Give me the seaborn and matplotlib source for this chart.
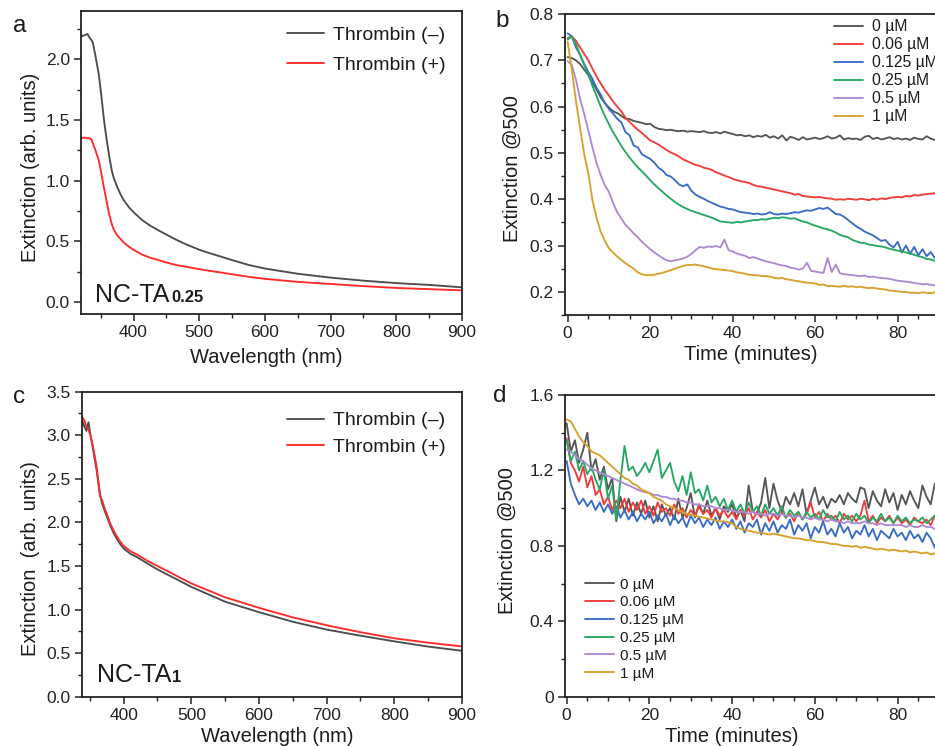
import numpy as np
import pandas as pd
import matplotlib
matplotlib.use("Agg")
import matplotlib.pyplot as plt
from matplotlib.ticker import MultipleLocator, FuncFormatter
import seaborn as sns

# ---------------- data ----------------
wl_a = [320, 325, 330, 333, 336, 338, 342, 347, 351, 355, 359, 363, 367, 370, 375, 380, 385, 393,
        400, 413, 425, 438, 450, 464, 480, 500, 514, 550, 575, 600, 650, 700, 750, 800, 850, 900]
a_minus = [2.19, 2.20, 2.21, 2.18, 2.16, 2.14, 2.03, 1.88, 1.70, 1.50, 1.34, 1.20, 1.08, 1.02, 0.95, 0.89, 0.84, 0.78,
           0.74, 0.675, 0.63, 0.59, 0.555, 0.515, 0.475, 0.43, 0.405, 0.345, 0.305, 0.275, 0.232, 0.20, 0.175, 0.155, 0.14, 0.12]
a_plus = [1.35, 1.355, 1.35, 1.35, 1.34, 1.31, 1.25, 1.17, 1.06, 0.94, 0.83, 0.72, 0.64, 0.595, 0.55, 0.52, 0.49, 0.455,
          0.43, 0.39, 0.365, 0.345, 0.325, 0.305, 0.29, 0.27, 0.258, 0.228, 0.207, 0.19, 0.165, 0.148, 0.13, 0.115, 0.105, 0.095]

wl_c = [338, 342, 345, 348, 351, 355, 360, 365, 368, 372, 376, 380, 385, 390, 395, 400, 410, 420, 435, 450,
        475, 500, 550, 600, 650, 700, 750, 800, 850, 900]
c_minus = [3.19, 3.10, 3.05, 3.15, 3.00, 2.83, 2.60, 2.33, 2.22, 2.13, 2.05, 1.97, 1.88, 1.81, 1.75, 1.70, 1.64, 1.60, 1.53, 1.46,
           1.36, 1.26, 1.09, 0.97, 0.86, 0.77, 0.70, 0.635, 0.575, 0.527]
c_plus = [3.22, 3.17, 3.10, 3.06, 3.00, 2.86, 2.64, 2.30, 2.26, 2.16, 2.08, 1.99, 1.91, 1.84, 1.78, 1.73, 1.67, 1.63, 1.56, 1.50,
          1.40, 1.30, 1.14, 1.02, 0.91, 0.82, 0.74, 0.67, 0.62, 0.577]

time_min = list(range(0, 91))
conc_labels = ["0 µM", "0.06 µM", "0.125 µM", "0.25 µM", "0.5 µM", "1 µM"]

b_0 = [0.707, 0.705, 0.700, 0.692, 0.680, 0.668, 0.652, 0.637, 0.620, 0.608,
       0.598, 0.590, 0.586, 0.580, 0.574, 0.573, 0.569, 0.567, 0.565, 0.562,
       0.563, 0.556, 0.552, 0.551, 0.549, 0.550, 0.548, 0.547, 0.548, 0.546,
       0.547, 0.546, 0.545, 0.547, 0.544, 0.543, 0.545, 0.542, 0.546, 0.543,
       0.541, 0.538, 0.539, 0.536, 0.538, 0.534, 0.537, 0.535, 0.539, 0.533,
       0.536, 0.531, 0.538, 0.527, 0.535, 0.532, 0.528, 0.534, 0.529, 0.531,
       0.533, 0.530, 0.532, 0.536, 0.531, 0.533, 0.538, 0.529, 0.532, 0.530,
       0.531, 0.528, 0.535, 0.537, 0.530, 0.533, 0.529, 0.531, 0.534, 0.530,
       0.532, 0.529, 0.531, 0.528, 0.533, 0.530, 0.529, 0.536, 0.531, 0.528, 0.529]
b_006 = [0.748, 0.752, 0.742, 0.728, 0.714, 0.700, 0.682, 0.665, 0.650, 0.636,
         0.624, 0.611, 0.600, 0.590, 0.576, 0.567, 0.558, 0.550, 0.543, 0.535,
         0.527, 0.523, 0.518, 0.512, 0.506, 0.501, 0.497, 0.492, 0.486, 0.482,
         0.478, 0.474, 0.472, 0.468, 0.466, 0.463, 0.458, 0.455, 0.451, 0.448,
         0.444, 0.441, 0.439, 0.437, 0.435, 0.431, 0.428, 0.427, 0.425, 0.423,
         0.421, 0.419, 0.417, 0.415, 0.413, 0.410, 0.411, 0.407, 0.406, 0.405,
         0.404, 0.405, 0.403, 0.402, 0.401, 0.399, 0.400, 0.399, 0.401, 0.400,
         0.399, 0.401, 0.400, 0.398, 0.401, 0.399, 0.402, 0.400, 0.403, 0.404,
         0.405, 0.404, 0.407, 0.406, 0.409, 0.408, 0.410, 0.411, 0.412, 0.413, 0.413]
b_0125 = [0.758, 0.752, 0.728, 0.712, 0.692, 0.675, 0.660, 0.640, 0.626, 0.608,
          0.595, 0.585, 0.574, 0.566, 0.545, 0.538, 0.516, 0.512, 0.497, 0.492,
          0.487, 0.479, 0.468, 0.462, 0.452, 0.449, 0.441, 0.432, 0.428, 0.432,
          0.418, 0.410, 0.405, 0.401, 0.396, 0.392, 0.388, 0.384, 0.382, 0.379,
          0.378, 0.375, 0.372, 0.371, 0.370, 0.368, 0.369, 0.367, 0.368, 0.372,
          0.368, 0.367, 0.369, 0.368, 0.370, 0.372, 0.371, 0.374, 0.376, 0.375,
          0.378, 0.381, 0.379, 0.382, 0.375, 0.368, 0.367, 0.362, 0.355, 0.348,
          0.341, 0.336, 0.330, 0.326, 0.322, 0.316, 0.310, 0.312, 0.302, 0.296,
          0.308, 0.285, 0.300, 0.282, 0.297, 0.279, 0.292, 0.277, 0.286, 0.273, 0.280]
b_025 = [0.745, 0.752, 0.735, 0.712, 0.690, 0.670, 0.645, 0.623, 0.600, 0.580,
         0.562, 0.545, 0.530, 0.515, 0.502, 0.490, 0.479, 0.469, 0.460, 0.451,
         0.441, 0.432, 0.424, 0.416, 0.408, 0.401, 0.394, 0.388, 0.383, 0.379,
         0.375, 0.372, 0.369, 0.366, 0.363, 0.360, 0.356, 0.352, 0.351, 0.350,
         0.349, 0.351, 0.350, 0.352, 0.353, 0.355, 0.355, 0.357, 0.356, 0.358,
         0.360, 0.359, 0.361, 0.360, 0.358, 0.359, 0.355, 0.352, 0.350, 0.346,
         0.343, 0.340, 0.337, 0.335, 0.332, 0.328, 0.323, 0.320, 0.318, 0.312,
         0.309, 0.306, 0.305, 0.302, 0.301, 0.299, 0.298, 0.296, 0.293, 0.291,
         0.289, 0.287, 0.285, 0.283, 0.280, 0.277, 0.275, 0.271, 0.270, 0.267, 0.266]
b_05 = [0.698, 0.690, 0.658, 0.617, 0.584, 0.548, 0.512, 0.478, 0.452, 0.430,
        0.416, 0.392, 0.372, 0.358, 0.345, 0.336, 0.326, 0.318, 0.308, 0.300,
        0.292, 0.285, 0.279, 0.273, 0.268, 0.266, 0.268, 0.270, 0.272, 0.276,
        0.282, 0.290, 0.297, 0.295, 0.298, 0.297, 0.299, 0.296, 0.313, 0.290,
        0.287, 0.283, 0.280, 0.278, 0.273, 0.275, 0.272, 0.269, 0.266, 0.264,
        0.262, 0.259, 0.257, 0.256, 0.252, 0.251, 0.248, 0.250, 0.263, 0.245,
        0.244, 0.242, 0.241, 0.273, 0.243, 0.259, 0.240, 0.238, 0.237, 0.236,
        0.235, 0.234, 0.235, 0.232, 0.233, 0.231, 0.230, 0.229, 0.228, 0.226,
        0.224, 0.223, 0.222, 0.221, 0.219, 0.218, 0.216, 0.217, 0.215, 0.214, 0.214]
b_1 = [0.740, 0.680, 0.612, 0.555, 0.497, 0.456, 0.398, 0.360, 0.330, 0.310,
       0.294, 0.285, 0.276, 0.269, 0.262, 0.256, 0.250, 0.242, 0.238, 0.236,
       0.236, 0.237, 0.239, 0.241, 0.244, 0.247, 0.250, 0.253, 0.256, 0.258,
       0.258, 0.259, 0.257, 0.255, 0.253, 0.250, 0.249, 0.248, 0.247, 0.246,
       0.245, 0.242, 0.241, 0.239, 0.237, 0.236, 0.236, 0.234, 0.234, 0.233,
       0.230, 0.229, 0.230, 0.227, 0.226, 0.224, 0.223, 0.221, 0.220, 0.219,
       0.218, 0.215, 0.216, 0.212, 0.213, 0.212, 0.211, 0.213, 0.211, 0.212,
       0.210, 0.211, 0.209, 0.208, 0.209, 0.207, 0.206, 0.205, 0.203, 0.202,
       0.201, 0.200, 0.200, 0.198, 0.198, 0.197, 0.199, 0.198, 0.197, 0.199, 0.199]

d_0 = [1.45, 1.30, 1.36, 1.24, 1.31, 1.40, 1.20, 1.26, 1.15, 1.22,
       1.10, 1.16, 0.93, 1.06, 0.98, 1.05, 0.96, 1.03, 0.97, 1.04,
       0.95, 1.01, 0.93, 1.02, 0.96, 1.00, 0.94, 1.05, 0.95, 1.00,
       1.08, 0.95, 1.02, 0.97, 1.04, 0.96, 1.00, 0.94, 1.01, 0.98,
       1.02, 0.95, 0.99, 0.93, 1.12, 0.98, 0.97, 1.03, 1.16, 1.00,
       1.13, 1.04, 0.98, 1.06, 1.02, 1.08, 1.01, 1.10, 0.97, 1.04,
       1.11, 1.02, 1.06, 1.00, 1.05, 1.03, 1.07, 1.02, 1.08, 1.05,
       1.03, 1.11, 1.10, 1.00, 1.09, 1.04, 1.01, 1.10, 1.03, 1.08,
       0.99, 1.07, 1.02, 1.09, 1.04, 1.00, 1.12, 1.06, 1.02, 1.13, 1.05]
d_006 = [1.37, 1.24, 1.20, 1.14, 1.22, 1.11, 1.17, 1.07, 1.10, 1.02,
         1.06, 0.99, 1.04, 1.00, 1.05, 0.98, 1.03, 0.99, 1.04, 0.97,
         1.01, 0.96, 1.03, 0.98, 1.00, 0.96, 1.02, 0.97, 1.00, 0.95,
         0.99, 0.96, 1.01, 0.97, 0.99, 0.95, 1.00, 0.96, 0.99, 0.95,
         0.98, 0.94, 0.99, 0.96, 1.00, 0.94, 0.98, 0.95, 0.99, 0.93,
         0.97, 0.94, 0.98, 0.95, 0.97, 0.93, 0.98, 0.94, 0.97, 1.03,
         0.95, 0.98, 0.93, 0.97, 0.94, 0.96, 0.92, 0.97, 0.94, 0.96,
         0.93, 0.96, 1.04, 0.93, 0.96, 0.92, 0.95, 0.93, 0.96, 0.92,
         0.95, 0.92, 0.94, 0.91, 0.95, 0.93, 0.92, 0.94, 0.91, 0.96, 0.93]
d_0125 = [1.25, 1.13, 1.07, 1.02, 1.05, 1.01, 1.04, 0.99, 1.03, 0.98,
          1.02, 0.97, 1.01, 0.95, 0.99, 0.94, 0.98, 0.93, 0.97, 0.94,
          0.98, 0.92, 0.96, 0.93, 0.97, 0.91, 0.96, 0.92, 0.95, 0.90,
          0.96, 0.92, 0.95, 0.90, 0.94, 0.91, 0.95, 0.89, 0.93, 0.90,
          0.94, 0.89, 0.93, 0.87, 0.92, 0.90, 0.94, 0.86, 0.92, 0.88,
          0.93, 0.87, 0.91, 0.89, 0.94, 0.86, 0.91, 0.88, 0.92, 0.84,
          0.90, 0.87, 0.93, 0.86, 0.89, 0.85, 0.92, 0.87, 0.90, 0.84,
          0.88, 0.86, 0.91, 0.85, 0.89, 0.83, 0.88, 0.86, 0.84, 0.89,
          0.85, 0.87, 0.83, 0.88, 0.84, 0.86, 0.82, 0.87, 0.84, 0.79, 0.88]
d_025 = [1.36, 1.25, 1.30, 1.20, 1.25, 1.18, 1.22, 1.15, 1.10, 1.20,
         1.05, 1.12, 0.94, 1.15, 1.33, 1.20, 1.22, 1.17, 1.20, 1.24,
         1.19, 1.25, 1.31, 1.16, 1.20, 1.24, 1.14, 1.09, 1.17, 1.07,
         1.19, 1.08, 1.10, 1.04, 1.12, 1.03, 1.06, 1.01, 1.05, 0.99,
         1.04, 0.98, 1.02, 0.97, 1.03, 0.98, 1.01, 0.96, 1.02, 0.97,
         1.00, 0.96, 1.01, 0.95, 0.99, 0.96, 0.98, 0.94, 0.98, 0.95,
         0.97, 0.94, 0.99, 0.95, 0.96, 0.93, 0.98, 0.94, 0.96, 0.93,
         0.97, 0.94, 0.96, 0.92, 0.95, 0.93, 0.97, 0.93, 0.95, 0.92,
         0.96, 0.93, 0.95, 0.92, 0.94, 0.93, 0.95, 0.92, 0.94, 0.96, 0.93]
d_05 = [1.31, 1.30, 1.28, 1.26, 1.25, 1.23, 1.21, 1.20, 1.19, 1.18,
        1.17, 1.16, 1.15, 1.14, 1.13, 1.12, 1.11, 1.10, 1.09, 1.085,
        1.08, 1.07, 1.07, 1.06, 1.06, 1.05, 1.05, 1.04, 1.04, 1.03,
        1.03, 1.02, 1.02, 1.01, 1.01, 1.01, 1.00, 1.00, 0.99, 0.99,
        0.99, 0.98, 0.98, 0.98, 0.97, 0.98, 0.97, 0.97, 0.96, 0.97,
        0.97, 0.96, 0.97, 0.96, 0.96, 0.95, 0.96, 0.95, 0.95, 0.94,
        0.95, 0.94, 0.94, 0.93, 0.94, 0.93, 0.93, 0.92, 0.93, 0.92,
        0.92, 0.92, 0.93, 0.92, 0.92, 0.91, 0.92, 0.91, 0.91, 0.91,
        0.91, 0.91, 0.90, 0.91, 0.90, 0.90, 0.91, 0.90, 0.90, 0.89, 0.90]
d_1 = [1.47, 1.46, 1.42, 1.38, 1.35, 1.33, 1.30, 1.29, 1.28, 1.26,
       1.24, 1.22, 1.20, 1.18, 1.16, 1.15, 1.13, 1.12, 1.10, 1.09,
       1.08, 1.06, 1.05, 1.04, 1.02, 1.01, 1.00, 0.99, 0.98, 0.97,
       0.965, 0.96, 0.955, 0.95, 0.945, 0.94, 0.935, 0.93, 0.93, 0.925,
       0.92, 0.90, 0.89, 0.885, 0.88, 0.875, 0.87, 0.87, 0.865, 0.86,
       0.865, 0.86, 0.855, 0.85, 0.845, 0.84, 0.84, 0.835, 0.83, 0.83,
       0.825, 0.82, 0.82, 0.815, 0.81, 0.81, 0.805, 0.80, 0.80, 0.795,
       0.80, 0.79, 0.795, 0.79, 0.785, 0.78, 0.785, 0.78, 0.775, 0.78,
       0.775, 0.77, 0.775, 0.765, 0.77, 0.765, 0.76, 0.765, 0.755, 0.76, 0.755]

thrombin_labels = ["Thrombin (–)", "Thrombin (+)"]
thrombin_colors = ["#4d4d4d", "#ff2a2a"]
conc_colors = ["#555555", "#f23b3b", "#3a6cc6", "#27a862", "#ad8ad3", "#d6a12c"]

# ---------------- style ----------------
sns.set_style("ticks")
plt.rcParams["font.family"] = ["Liberation Sans", "DejaVu Sans"]
TXT = "#1c1c1c"
plt.rcParams.update({"text.color": TXT, "axes.labelcolor": TXT,
                     "xtick.color": "#222222", "ytick.color": "#222222",
                     "axes.edgecolor": "#222222"})

W, H = 935, 746
fig = plt.figure(figsize=(W / 100, H / 100), dpi=100)


def px_axes(left, top, right, bottom):
    return fig.add_axes([left / W, 1 - bottom / H, (right - left) / W, (bottom - top) / H])


def style_axes(ax, xmaj, xmin, ymaj, ymin):
    for s in ax.spines.values():
        s.set_linewidth(1.3)
        s.set_visible(True)
    ax.xaxis.set_major_locator(MultipleLocator(xmaj))
    ax.xaxis.set_minor_locator(MultipleLocator(xmin))
    ax.yaxis.set_major_locator(MultipleLocator(ymaj))
    ax.yaxis.set_minor_locator(MultipleLocator(ymin))
    ax.tick_params(which="major", direction="out", length=5, width=1.1, labelsize=12.5, pad=3,
                   top=False, right=False)
    ax.tick_params(which="minor", direction="out", length=3, width=1.0, top=False, right=False)


LW = 1.35

# ---- panel a ----
axa = px_axes(81, 11, 462, 314)
for vals, lab, col in zip([a_minus, a_plus], thrombin_labels, thrombin_colors):
    sns.lineplot(x=wl_a, y=vals, ax=axa, color=col, lw=LW, label=lab, estimator=None)
axa.set_xlim(320, 900)
axa.set_ylim(-0.1, 2.4)
style_axes(axa, 100, 50, 0.5, 0.25)
axa.set_xticks([400, 500, 600, 700, 800, 900])
axa.yaxis.set_major_formatter(FuncFormatter(lambda v, p: f"{v:.1f}"))
axa.set_xlabel("Wavelength (nm)", fontsize=14.5)
axa.set_ylabel("Extinction (arb. units)", fontsize=14.5)
axa.xaxis.set_label_coords(0.485, -0.112)
axa.yaxis.set_label_coords(-0.108, 0.483)
axa.legend(loc="upper left", bbox_to_anchor=(287 / W, 1 - 26.5 / H), bbox_transform=fig.transFigure,
           frameon=False, fontsize=14, handlelength=1.9, handletextpad=0.46, labelspacing=0.63,
           borderpad=0, borderaxespad=0)

# ---- panel b ----
axb = px_axes(565, 14, 946, 315)
for vals, lab, col in zip([b_0, b_006, b_0125, b_025, b_05, b_1], conc_labels, conc_colors):
    sns.lineplot(x=time_min, y=vals, ax=axb, color=col, lw=LW, label=lab, estimator=None)
axb.set_xlim(-0.65, 91.7)
axb.set_ylim(0.15, 0.8)
style_axes(axb, 20, 5, 0.1, 0.05)
axb.set_xticks([0, 20, 40, 60, 80])
axb.yaxis.set_major_formatter(FuncFormatter(lambda v, p: f"{v:.1f}"))
axb.set_xlabel("Time (minutes)", fontsize=14.5)
axb.set_ylabel("Extinction @500", fontsize=14.5)
axb.xaxis.set_label_coords(0.488, -0.1)
axb.yaxis.set_label_coords(-0.113, 0.488)
axb.legend(loc="upper left", bbox_to_anchor=(834 / W, 1 - 19.5 / H), bbox_transform=fig.transFigure,
           frameon=False, fontsize=11.3, handlelength=1.86, handletextpad=0.53, labelspacing=0.19,
           borderpad=0, borderaxespad=0)

# ---- panel c ----
axc = px_axes(81.7, 391.7, 462, 696.7)
for vals, lab, col in zip([c_minus, c_plus], thrombin_labels, thrombin_colors):
    sns.lineplot(x=wl_c, y=vals, ax=axc, color=col, lw=LW, label=lab, estimator=None)
axc.set_xlim(338, 900)
axc.set_ylim(0, 3.5)
style_axes(axc, 100, 50, 0.5, 0.25)
axc.set_xticks([400, 500, 600, 700, 800, 900])
axc.yaxis.set_major_formatter(FuncFormatter(lambda v, p: f"{v:.1f}"))
axc.set_xlabel("Wavelength (nm)", fontsize=14.5)
axc.set_ylabel("Extinction  (arb. units)", fontsize=14.5)
axc.xaxis.set_label_coords(0.513, -0.098)
axc.yaxis.set_label_coords(-0.11, 0.453)
axc.legend(loc="upper left", bbox_to_anchor=(287 / W, 1 - 411.7 / H), bbox_transform=fig.transFigure,
           frameon=False, fontsize=14, handlelength=1.9, handletextpad=0.46, labelspacing=0.47,
           borderpad=0, borderaxespad=0)

# ---- panel d ----
axd = px_axes(565, 395, 946, 696.7)
for vals, lab, col in zip([d_0, d_006, d_0125, d_025, d_05, d_1], conc_labels, conc_colors):
    sns.lineplot(x=time_min, y=vals, ax=axd, color=col, lw=LW, label=lab, estimator=None)
axd.set_xlim(-0.4, 91.7)
axd.set_ylim(0, 1.6)
style_axes(axd, 20, 5, 0.4, 0.2)
axd.set_xticks([0, 20, 40, 60, 80])
axd.yaxis.set_major_formatter(FuncFormatter(lambda v, p: "0" if abs(v) < 1e-9 else f"{v:.1f}"))
axd.set_xlabel("Time (minutes)", fontsize=14.5)
axd.set_ylabel("Extinction @500", fontsize=14.5)
axd.xaxis.set_label_coords(0.4375, -0.0995)
axd.yaxis.set_label_coords(-0.126, 0.519)
axd.legend(loc="upper left", bbox_to_anchor=(585 / W, 1 - 577.5 / H), bbox_transform=fig.transFigure,
           frameon=False, fontsize=11, handlelength=1.9, handletextpad=0.4, labelspacing=0.25,
           borderpad=0, borderaxespad=0)

# ---- annotations ----
def ftext(x, y, s, **kw):
    fig.text(x / W, 1 - y / H, s, **kw)

ftext(95, 302, "NC-TA", fontsize=18, va="baseline", ha="left")
ftext(171.5, 302, "0.25", fontsize=12, fontweight="bold", va="baseline", ha="left")
ftext(96.7, 681.7, "NC-TA", fontsize=18, va="baseline", ha="left")
ftext(172, 681.7, "1", fontsize=12, fontweight="bold", va="baseline", ha="left")

for (x, y, s) in [(12.5, 31.7, "a"), (495, 26.7, "b"), (12.5, 403.3, "c"), (493, 402.3, "d")]:
    ftext(x, y, s, fontsize=17.5, va="baseline", ha="left")

fig.savefig("out.png", dpi=100)
